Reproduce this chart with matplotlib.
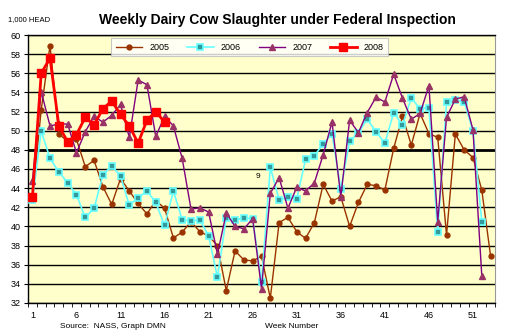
import numpy as np
import matplotlib
matplotlib.use('Agg')
import matplotlib.pyplot as plt

nan = np.nan
weeks = list(range(1, 54))

s2005 = [43.0, 52.2, 58.9, 49.65, 48.9, 49.1, 46.24, 46.9, 44.15, 42.3,
         45.0, 43.7, 42.4, 41.3, 42.7, 41.9, 38.8, 39.4, 40.5, 39.45,
         39.0, 38.0, 33.3, 37.45, 36.5, 36.4, 36.9, 32.5, 40.4, 40.95,
         39.45, 38.75, 40.4, 44.4, 42.65, 43.1, 40.0, 42.5, 44.4, 44.25,
         43.8, 48.15, 51.5, 48.5, 51.8, 49.7, 49.3, 39.1, 49.65, 48.0,
         47.2, 43.8, 36.9]
s2006 = [42.75, 49.97, 47.1, 45.7, 44.56, 43.3, 40.94, 41.9, 45.37, 46.35,
         45.26, 42.2, 43.0, 43.7, 42.5, 40.1, 43.7, 40.7, 40.55, 40.7,
         39.0, 34.7, 40.9, 40.65, 40.9, 40.8, 34.15, 46.2, 42.75, 43.1,
         42.9, 47.0, 47.4, 48.6, 49.7, 43.9, 48.9, 49.8, 51.2, 49.9,
         48.7, 51.9, 50.6, 53.4, 52.3, 52.4, 39.4, 53.0, 53.2, 53.0,
         50.0, 40.5, nan]
s2007 = [44.77, 54.08, 50.5, 50.7, 50.7, 47.7, 49.9, 51.5, 50.9, 51.6,
         52.75, 49.3, 55.3, 54.8, 49.4, 51.5, 50.5, 47.1, 41.8, 41.95,
         41.5, 37.1, 41.4, 40.0, 39.75, 40.8, 33.5, 43.45, 45.1, 41.9,
         44.1, 43.7, 44.55, 47.5, 50.9, 43.1, 51.1, 49.8, 51.9, 53.5,
         53.0, 55.9, 53.4, 51.2, 51.8, 54.7, 40.5, 51.4, 53.3, 53.55,
         50.1, 34.85, nan]
s2008 = [43.03, 56.0, 57.6, 50.5, 48.85, 49.6, 51.4, 50.6, 52.3, 53.1,
         51.7, 50.5, 48.7, 51.1, 52.0, 50.9]
s2008 = s2008 + [nan] * (53 - len(s2008))

yticks = list(range(32, 61, 2))
xticks = list(range(1, 54, 5))

plt.rcParams['font.family'] = ['Liberation Sans', 'DejaVu Sans']

fig = plt.figure(figsize=(5.05, 3.36), dpi=100)
ax = fig.add_axes([28/505, 33/336, 467/505, 268/336])
ax.set_facecolor('#ffffcc')

for y in yticks:
    ax.axhline(y, color='black', lw=2.0 if y == 48 else 1.0, zorder=1)

ax.plot(weeks, s2005, color='#993300', lw=1.0, marker='o', ms=3.5,
        mfc='#993300', mec='#993300', label='2005', zorder=3)
ax.plot(weeks, s2006, color='#66ffff', lw=1.2, marker='s', ms=4.5,
        mfc='#339999', mec='#66ffff', mew=1.2, label='2006', zorder=3)
ax.plot(weeks, s2007, color='#800080', lw=1.0, marker='^', ms=4.5,
        mfc='#993366', mec='#993366', label='2007', zorder=4)
ax.plot(weeks, s2008, color='#ff0000', lw=2.0, marker='s', ms=6,
        mfc='#ff0000', mec='#ff0000', label='2008', zorder=5)

ax.text(26.6, 45.2, '9', fontsize=6, ha='center', va='center')

ax.set_xlim(0.5, 53.5)
ax.set_ylim(32, 60)
ax.set_yticks(yticks)
ax.set_xticks(xticks)
ax.set_xticks(np.arange(0.5, 54, 1), minor=True)
ax.tick_params(axis='x', which='major', length=0, labelsize=6.5, pad=6)
ax.tick_params(axis='x', which='minor', length=3, direction='out')
ax.tick_params(axis='y', length=3, direction='out', labelsize=6.5, pad=2)
ax.spines['right'].set_color('#999999')
ax.spines['right'].set_linewidth(0.8)
ax.spines['top'].set_linewidth(1.0)
ax.spines['left'].set_linewidth(1.0)
ax.spines['bottom'].set_linewidth(1.0)

leg = ax.legend(ncol=4, loc='upper center', bbox_to_anchor=(0.475, 1.005),
                fontsize=6.5, frameon=True, fancybox=False, edgecolor='#bbbbbb',
                handlelength=2.9, columnspacing=2.0, borderpad=0.5)
leg.get_frame().set_linewidth(0.8)
leg.set_zorder(6)

fig.text(8/505, 1 - 20/336, '1,000 HEAD', fontsize=5.5, va='center')
fig.text(277/505, 1 - 20/336, 'Weekly Dairy Cow Slaughter under Federal Inspection',
         fontsize=10, fontweight='bold', ha='center', va='center')
fig.text(60/505, 1 - 326/336, 'Source:  NASS, Graph DMN', fontsize=6, va='center')
fig.text(265/505, 1 - 326/336, 'Week Number', fontsize=6, va='center')

fig.savefig('out.png', dpi=100)
